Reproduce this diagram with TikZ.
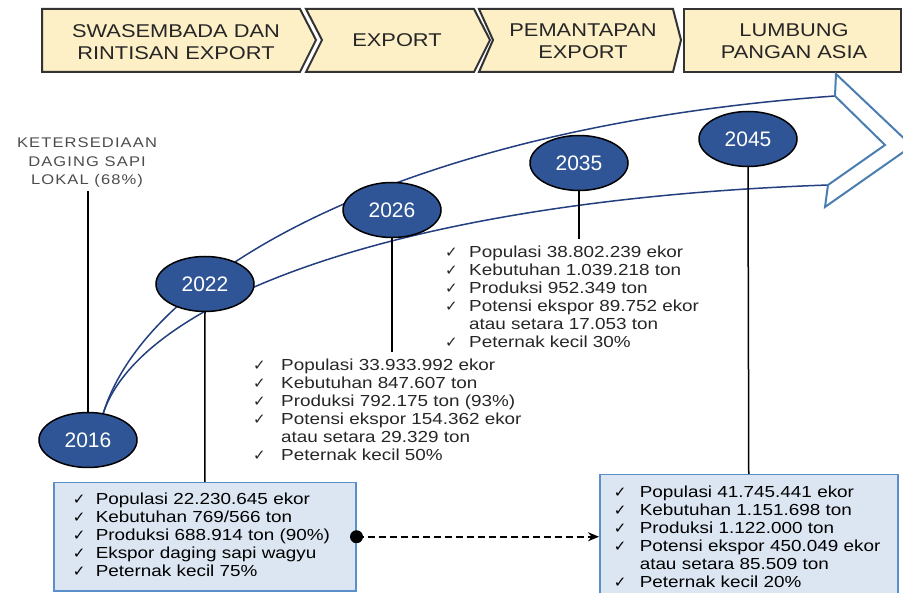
\documentclass[tikz,border=0pt]{standalone}
\usepackage{fontspec}
\setmainfont{Liberation Sans}[FakeStretch=1.18]
\newfontfamily\plainsf{Liberation Sans}
\newfontfamily\spaced{Liberation Sans}[FakeStretch=1.18,LetterSpace=8]
\newfontfamily\chkfont{DejaVu Sans}
\usetikzlibrary{shapes.geometric,arrows.meta}
\definecolor{banner}{HTML}{FDEFC6}
\definecolor{yearblue}{HTML}{2F5597}
\definecolor{navy}{HTML}{243F7F}
\definecolor{headblue}{HTML}{4A7EB0}
\definecolor{boxfill}{HTML}{DCE6F2}
\definecolor{boxline}{HTML}{5B8FCB}
\definecolor{txt}{HTML}{262626}
\newcommand{\ck}{\makebox[12pt][l]{\chkfont\fontsize{15}{15}\selectfont ✓}}

\begin{document}
\begin{tikzpicture}[x=1pt,y=-1pt,
  year/.style={ellipse,draw=black,line width=1.5,fill=yearblue,text=white,minimum width=98,minimum height=55,inner sep=0,font=\plainsf\fontsize{21}{21}\selectfont},
  stage/.style={draw=black!80,line width=2,fill=banner},
  stagetext/.style={align=center,text=txt,font=\fontsize{18.5}{22}\selectfont},
  stem/.style={line width=1.5,black},
  lst/.style={inner sep=0,anchor=north west,text=txt,font=\fontsize{16}{18}\selectfont},
  lbox/.style={draw=boxline,line width=1.5,fill=boxfill,anchor=north west,align=left,text=black,font=\fontsize{16}{18}\selectfont}]
\useasboundingbox (0,0) rectangle (903,593);
\clip (0,0) rectangle (903,593);

\path[stage] (42,9) -- (300,9) -- (316,40) -- (300,72) -- (42,72) -- cycle;
\path[stage] (306,9) -- (474,9) -- (490,40) -- (474,72) -- (306,72) -- (322,40) -- cycle;
\path[stage] (479,9) -- (673,9) -- (681,40) -- (673,72) -- (479,72) -- (493,40) -- cycle;
\path[stage] (684,9) rectangle (901,72);
\node[stagetext] (s1) at (176,42) {SWASEMBADA DAN\\RINTISAN EXPORT};
\node[stagetext] (s2) at (397,40) {EXPORT};
\node[stagetext] (s3) at (583,41) {PEMANTAPAN\\EXPORT};
\node[stagetext] (s4) at (794,41) {LUMBUNG\\PANGAN ASIA};

\coordinate (start) at (103,414);
\coordinate (ht) at (835,96);
\coordinate (hb) at (828,185);
\draw[navy,line width=1.5] (start) .. controls (150,262) and (425,125) .. (ht);
\draw[navy,line width=1.5] (start) .. controls (140,300) and (400,200) .. (hb);
\draw[headblue,line width=2] (ht) -- (836,74) -- (912,146) -- (825,207) -- (hb) -- (885,145) -- cycle;

\node[year] (y16) at (88,440) {2016};
\node[year] (y22) at (205,284) {2022};
\node[year] (y26) at (392,210) {2026};
\node[year] (y35) at (579,163) {2035};
\node[year] (y45) at (748,139) {2045};

\node[font=\spaced\fontsize{14}{18.5}\selectfont,text=black!70,align=center] (stok) at (87,163) {KETERSEDIAAN\\DAGING SAPI\\LOKAL (68\%)};

\node[lst] (list26) at (253,358) {\begin{tabular}{@{}l@{\hspace{16pt}}l@{}}
\ck & Populasi 33.933.992 ekor\\
\ck & Kebutuhan 847.607 ton\\
\ck & Produksi 792.175 ton (93\%)\\
\ck & Potensi ekspor 154.362 ekor\\
    & atau setara 29.329 ton\\
\ck & Peternak kecil 50\%
\end{tabular}};
\node[lst] (list35) at (445,245) {\begin{tabular}{@{}l@{\hspace{12pt}}l@{}}
\ck & Populasi 38.802.239 ekor\\
\ck & Kebutuhan 1.039.218 ton\\
\ck & Produksi 952.349 ton\\
\ck & Potensi ekspor 89.752 ekor\\
    & atau setara 17.053 ton\\
\ck & Peternak kecil 30\%
\end{tabular}};
\node[lbox,text width=264,inner xsep=19,inner ysep=9] (box22) at (53,482) {\begin{tabular}{@{}l@{\hspace{11pt}}l@{}}
\ck & Populasi 22.230.645 ekor\\
\ck & Kebutuhan 769/566 ton\\
\ck & Produksi 688.914 ton (90\%)\\
\ck & Ekspor daging sapi wagyu\\
\ck & Peternak kecil 75\%
\end{tabular}};
\node[lbox,text width=270,inner xsep=14,inner ysep=10] (box45) at (599,474) {\begin{tabular}{@{}l@{\hspace{14pt}}l@{}}
\ck & Populasi 41.745.441 ekor\\
\ck & Kebutuhan 1.151.698 ton\\
\ck & Produksi 1.122.000 ton\\
\ck & Potensi ekspor 450.049 ekor\\
    & atau setara 85.509 ton\\
\ck & Peternak kecil 20\%
\end{tabular}};

\draw[stem] (y16.north) -- (y16.north |- stok.south);
\draw[stem] (y22.south) -- (box22.north);
\draw[stem,shorten >=6] (y26.south) -- (y26.south |- list26.north);
\draw[stem,shorten >=6] (y35.south) -- (y35.south |- list35.north);
\draw[stem] (y45.south) -- (box45.north);

\fill (box22.east) circle (6.5);
\draw[line width=1.6,dash pattern=on 7pt off 4pt,-{Stealth[length=11pt,width=9pt]}] (box22.east) -- (box22.east -| box45.west);
\end{tikzpicture}
\end{document}
